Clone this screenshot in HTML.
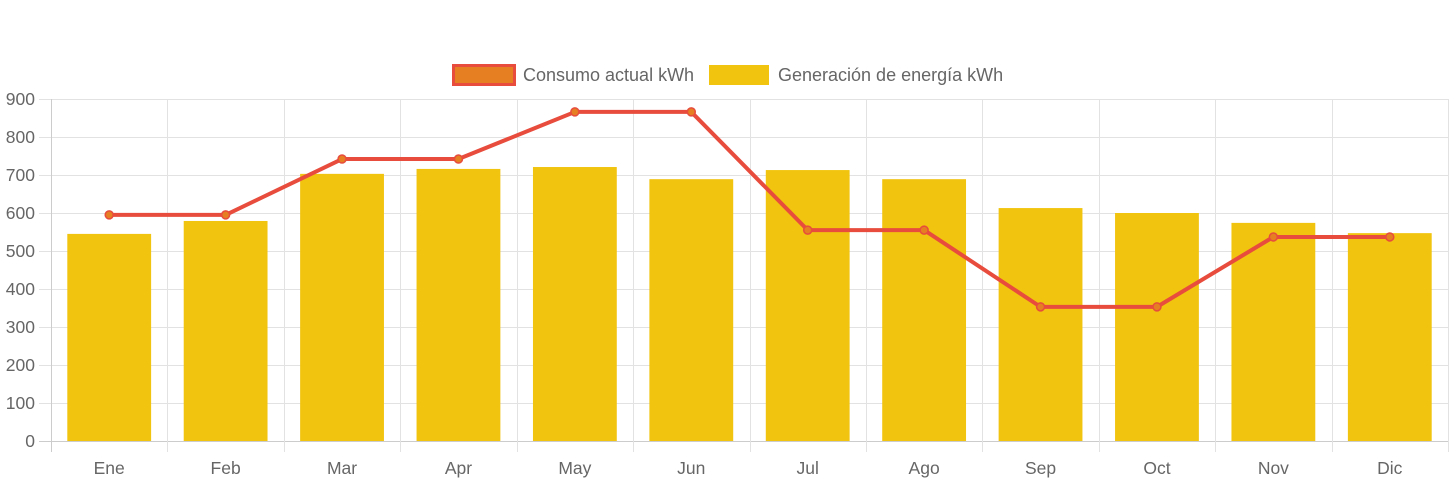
<!DOCTYPE html>
<html><head><meta charset="utf-8"><style>
html,body{margin:0;padding:0;background:#fff;width:1456px;height:484px;overflow:hidden}
svg text{font-family:"Liberation Sans",Arial,sans-serif;fill:#666}
</style></head><body>
<svg id="chart" width="1456" height="484" xmlns="http://www.w3.org/2000/svg">
<g id="legend">
<g>
<rect x="453.5" y="65.5" width="61" height="19" fill="#e67e22" stroke="#e74c3c" stroke-width="3"/>
<text x="523" y="81" font-size="18">Consumo actual kWh</text></g>
<g>
<rect x="709" y="65" width="60" height="20" fill="#f1c40f"/>
<text x="778" y="81" font-size="18">Generación de energía kWh</text></g>
</g>
<g id="grid"></g><g id="bars"></g><g id="line"></g><g id="axes"></g>
</svg>
<script>
const categories=["Ene","Feb","Mar","Apr","May","Jun","Jul","Ago","Sep","Oct","Nov","Dic"];
const generacion=[545,579,703,716,721,689,713,689,613,600,574,547];
const consumo=[595,595,742,742,866,866,555,555,353,353,537,537];
const yTicks=[0,100,200,300,400,500,600,700,800,900];
const NS="http://www.w3.org/2000/svg";
const L=51,R=1448,T=99,B=441,yMax=900;
const cw=(R-L)/categories.length;
const x=i=>L+cw*(i+0.5);
const y=v=>B-(v/yMax)*(B-T);
function mk(tag,attrs,parent){const e=document.createElementNS(NS,tag);for(const k in attrs)e.setAttribute(k,attrs[k]);document.getElementById(parent).appendChild(e);return e;}
yTicks.forEach(t=>{
 const g=mk('line',{x1:39,x2:R,y1:y(t)+0.5,y2:y(t)+0.5,stroke:t===0?'#ccc':'#e2e2e2','stroke-width':1},'grid');
 
 
 const tx=mk('text',{x:35,y:y(t)+6,'text-anchor':'end','font-size':17.5},'axes');
 tx.textContent=t;
 
 
});
for(let i=0;i<=categories.length;i++){
 const xx=Math.round(L+cw*i)+0.5;
 const g=mk('line',{x1:xx,x2:xx,y1:T,y2:452,stroke:i===0?'#ccc':'#e2e2e2','stroke-width':1},'grid');
 
 
}
const bw=cw*0.72;
categories.forEach((c,i)=>{
 const r=mk('rect',{x:x(i)-bw/2,y:y(generacion[i]),width:bw,height:B-y(generacion[i]),fill:'#f1c40f'},'bars');
 
 
 const tx=mk('text',{x:x(i),y:474,'text-anchor':'middle','font-size':17.5},'axes');
 tx.textContent=c;
 
 
});
const p=mk('polyline',{points:consumo.map((v,i)=>x(i)+','+y(v)).join(' '),fill:'none',stroke:'#e74c3c','stroke-width':4,'stroke-linejoin':'round'},'line');


consumo.forEach((v,i)=>{
 const c=mk('circle',{cx:x(i),cy:y(v),r:4,fill:'#e67e22',stroke:'#e74c3c','stroke-width':1.5},'line');
 
 
});
</script>
</body></html>
